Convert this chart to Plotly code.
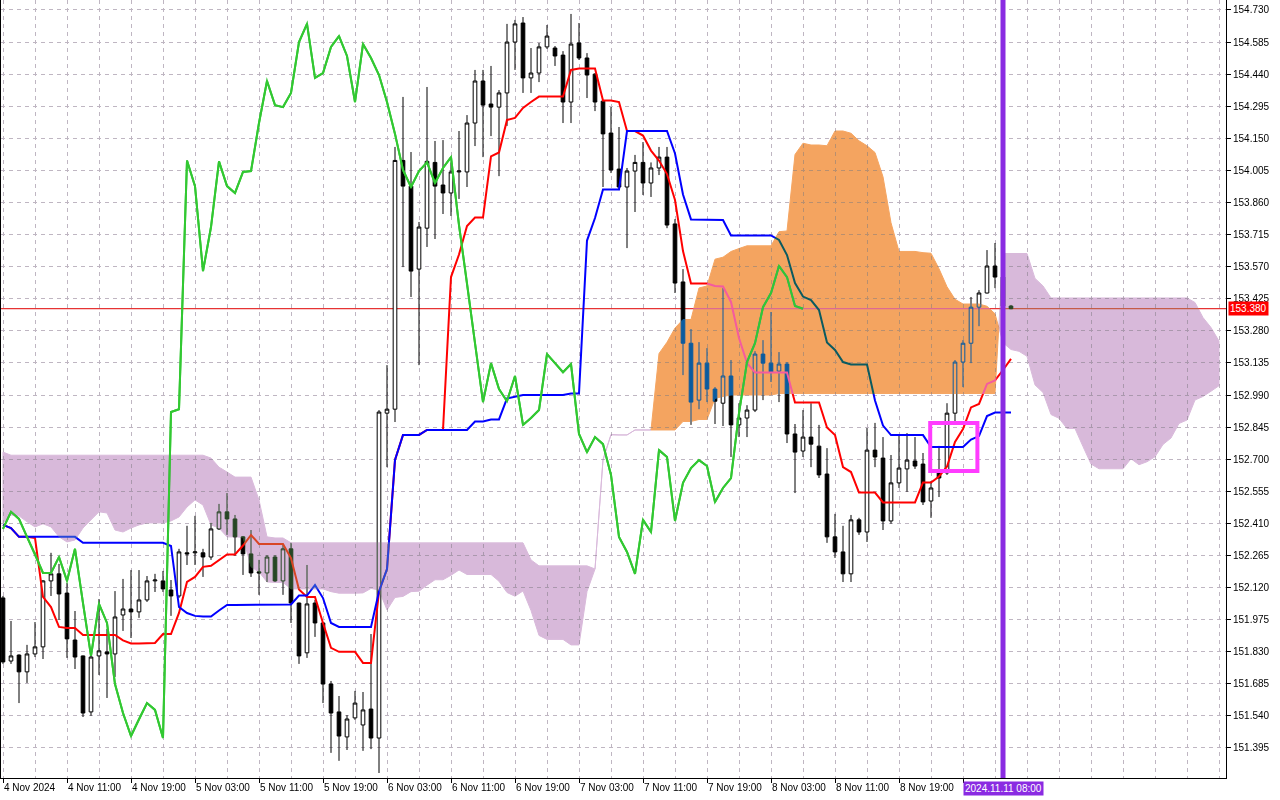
import numpy as np
import plotly.graph_objects as go

# ---------------- data ----------------
x_tick_labels = ["4 Nov 2024", "4 Nov 11:00", "4 Nov 19:00", "5 Nov 03:00", "5 Nov 11:00",
                 "5 Nov 19:00", "6 Nov 03:00", "6 Nov 11:00", "6 Nov 19:00", "7 Nov 03:00",
                 "7 Nov 11:00", "7 Nov 19:00", "8 Nov 03:00", "8 Nov 11:00", "8 Nov 19:00"]

open_ = [152.073, 151.788, 151.815, 151.739, 151.820, 151.852, 152.150, 152.182, 152.095, 151.883,
         151.811, 151.558, 151.811, 151.829, 151.820, 151.996, 152.023, 152.010, 152.064, 152.150,
         152.150, 152.109, 152.082, 152.277, 152.277, 152.277, 152.258, 152.385, 152.462, 152.430,
         152.349, 152.272, 152.191, 152.186, 152.258, 152.150, 152.295, 152.050, 151.825, 152.050,
         151.960, 151.684, 151.558, 151.445, 151.531, 151.499, 151.571, 151.440, 152.908, 152.926,
         154.050, 153.934, 153.559, 153.744, 154.041, 153.939, 153.903, 153.998, 153.998, 154.219,
         154.409, 154.305, 154.291, 154.355, 154.585, 154.671, 154.423, 154.445, 154.563, 154.558,
         154.526, 154.314, 154.581, 154.513, 154.440, 154.318, 154.174, 154.011, 153.930, 154.002,
         154.041, 153.948, 154.016, 154.065, 153.763, 153.501, 153.224, 152.967, 153.134, 153.017,
         152.953, 153.076, 152.855, 152.886, 152.922, 153.175, 153.134, 153.098, 153.130, 152.814,
         152.737, 152.800, 152.759, 152.633, 152.349, 152.281, 152.182, 152.426, 152.371, 152.741,
         152.705, 152.421, 152.593, 152.656, 152.692, 152.678, 152.511, 152.647, 152.638, 152.908,
         153.139, 153.224, 153.387, 153.451, 153.573, 153.523, 153.392]

high = [152.082, 151.969, 151.818, 151.861, 151.964, 152.154, 152.277, 152.227, 152.141, 152.014,
        151.813, 151.815, 152.068, 151.933, 152.104, 152.159, 152.199, 152.199, 152.172, 152.182,
        152.195, 152.154, 152.295, 152.399, 152.444, 152.295, 152.412, 152.498, 152.547, 152.448,
        152.353, 152.380, 152.245, 152.267, 152.267, 152.313, 152.322, 152.052, 152.222, 152.064,
        151.962, 151.698, 151.630, 151.544, 151.653, 151.648, 151.910, 152.922, 153.125, 154.111,
        154.337, 154.088, 153.772, 154.382, 154.138, 154.142, 154.041, 154.183, 154.255, 154.459,
        154.459, 154.477, 154.368, 154.667, 154.685, 154.698, 154.558, 154.581, 154.662, 154.567,
        154.544, 154.712, 154.671, 154.535, 154.445, 154.323, 154.291, 154.201, 154.016, 154.075,
        154.133, 154.041, 154.111, 154.111, 153.785, 153.559, 153.288, 153.229, 153.202, 153.026,
        153.473, 153.148, 152.953, 152.944, 153.188, 153.238, 153.365, 153.184, 153.139, 152.859,
        152.922, 152.953, 152.855, 152.750, 152.453, 152.399, 152.448, 152.435, 152.841, 152.864,
        152.800, 152.719, 152.814, 152.818, 152.800, 152.728, 152.601, 152.760, 152.953, 153.148,
        153.238, 153.433, 153.464, 153.645, 153.677, 153.555, 153.397]

low = [151.775, 151.775, 151.598, 151.689, 151.806, 151.797, 152.082, 151.974, 151.802, 151.752,
       151.535, 151.540, 151.725, 151.621, 151.716, 151.924, 151.892, 151.983, 152.055, 152.100,
       152.100, 151.992, 152.073, 152.222, 152.222, 152.168, 152.245, 152.380, 152.358, 152.263,
       152.177, 152.168, 152.087, 152.145, 152.145, 152.087, 151.960, 151.775, 151.802, 151.897,
       151.598, 151.373, 151.337, 151.386, 151.522, 151.382, 151.390, 151.282, 152.664, 152.868,
       153.568, 153.433, 153.125, 153.659, 153.695, 153.808, 153.799, 153.876, 153.930, 154.115,
       154.065, 154.160, 153.979, 154.206, 154.459, 154.355, 154.355, 154.404, 154.554, 154.477,
       154.219, 154.219, 154.504, 154.332, 154.273, 153.930, 153.993, 153.916, 153.654, 153.817,
       153.894, 153.885, 153.984, 153.744, 153.451, 153.080, 152.855, 152.926, 152.958, 152.859,
       152.850, 152.710, 152.800, 152.800, 152.913, 152.967, 153.049, 152.958, 152.773, 152.547,
       152.710, 152.664, 152.615, 152.322, 152.254, 152.145, 152.145, 152.358, 152.326, 152.664,
       152.380, 152.408, 152.570, 152.552, 152.656, 152.493, 152.435, 152.529, 152.629, 152.868,
       153.026, 153.134, 153.301, 153.449, 153.473, 153.380, 153.378]

close = [151.784, 151.811, 151.739, 151.820, 151.852, 152.150, 152.182, 152.091, 151.888, 151.806,
         151.553, 151.806, 151.834, 151.820, 151.987, 152.023, 152.010, 152.064, 152.150, 152.154,
         152.114, 152.082, 152.281, 152.272, 152.281, 152.258, 152.385, 152.462, 152.430, 152.349,
         152.272, 152.186, 152.186, 152.258, 152.150, 152.295, 152.050, 151.811, 152.046, 151.960,
         151.684, 151.553, 151.449, 151.526, 151.598, 151.567, 151.440, 152.913, 152.926, 154.050,
         153.934, 153.550, 153.749, 154.046, 153.934, 153.903, 153.998, 154.002, 154.219, 154.409,
         154.300, 154.291, 154.355, 154.585, 154.667, 154.423, 154.445, 154.563, 154.612, 154.522,
         154.314, 154.576, 154.513, 154.436, 154.314, 154.170, 154.007, 153.930, 154.002, 154.041,
         153.948, 154.016, 154.065, 153.758, 153.496, 153.224, 152.958, 153.134, 153.017, 152.962,
         153.076, 152.855, 152.886, 152.922, 153.175, 153.134, 153.093, 153.130, 152.814, 152.732,
         152.800, 152.768, 152.629, 152.349, 152.281, 152.182, 152.426, 152.371, 152.741, 152.710,
         152.421, 152.593, 152.660, 152.696, 152.669, 152.507, 152.570, 152.615, 152.908, 153.139,
         153.224, 153.387, 153.451, 153.573, 153.523, 153.392, 153.380]

# indicator values of the first bars (their history lies left of the visible window)
tenkan_head = [152.403, 152.389, 152.349, 152.349, 152.344, 152.078, 152.032, 151.942]
kijun_head = [152.403, 152.389] + [152.349] * 8 + [152.322] * 11 + [152.308, 152.032, 152.005, 151.992]
span_a_head = [152.412, 152.448, 152.444, 152.417, 152.394, 152.408, 152.394, 152.349, 152.326, 152.335,
               152.389, 152.426, 152.462, 152.457, 152.380, 152.371, 152.389, 152.403, 152.412, 152.412,
               152.412, 152.421, 152.439, 152.484, 152.516, 152.493]
span_b_head = ([152.732] + [152.718] * 25 + [152.705, 152.664, 152.642] + [152.619] * 3 +
               [152.516, 152.349, 152.344, 152.344] + [152.322] * 30 + [152.245] + [152.218] * 7 +
               [152.204, 152.699, 152.812])

y_tick_values = [151.395, 151.540, 151.685, 151.830, 151.975, 152.120, 152.265, 152.410, 152.555,
                 152.700, 152.845, 152.990, 153.135, 153.280, 153.425, 153.570, 153.715, 153.860,
                 154.005, 154.150, 154.295, 154.440, 154.585, 154.730]

last_price = 153.380
marker_bar = 125
marker_label = "2024.11.11 08:00"
box_bars = (115.9, 121.8)
box_prices = (152.647, 152.864)

TENKAN, KIJUN, SHIFT, SPANB = 9, 26, 26, 52

# ---------------- Ichimoku computation ----------------
n = len(close)
bars = np.arange(n)


def midpoint(period, i):
    lo = i - period + 1
    return (max(high[lo:i + 1]) + min(low[lo:i + 1])) / 2.0


tenkan = tenkan_head + [midpoint(TENKAN, i) for i in range(len(tenkan_head), n)]
kijun = kijun_head + [midpoint(KIJUN, i) for i in range(len(kijun_head), n)]
span_a = span_a_head + [(tenkan[i - SHIFT] + kijun[i - SHIFT]) / 2.0
                        for i in range(len(span_a_head), n + SHIFT)]
span_b = span_b_head + [midpoint(SPANB, i - SHIFT) for i in range(len(span_b_head), n + SHIFT)]
chikou_x = bars[:n - SHIFT]
chikou_y = close[SHIFT:]


def cloud_runs(a, b):
    xs = np.arange(len(a), dtype=float)
    eps = 1e-7

    def sgn(v):
        return 1 if v > eps else (-1 if v < -eps else 0)

    runs = []
    px, pa, pb = [xs[0]], [a[0]], [b[0]]
    sign = sgn(a[0] - b[0])
    for i in range(1, len(a)):
        d1 = a[i] - b[i]
        s = sgn(d1)
        if s != 0 and sign != 0 and s != sign:
            d0 = a[i - 1] - b[i - 1]
            t = d0 / (d0 - d1)
            t = min(max(t, 0.0), 1.0)
            xc = xs[i - 1] + t
            yc = a[i - 1] + t * (a[i] - a[i - 1])
            px.append(xc); pa.append(yc); pb.append(yc)
            runs.append((sign, px, pa, pb))
            px, pa, pb = [xc], [yc], [yc]
            sign = s
        elif sign == 0:
            sign = s
        px.append(xs[i]); pa.append(a[i]); pb.append(b[i])
    runs.append((sign, px, pa, pb))
    return runs


def xy_path(xs, ys, close_path=False):
    p = "M " + " L ".join(f"{x:.4f},{y:.5f}" for x, y in zip(xs, ys))
    return p + (" Z" if close_path else "")


# The terminal paints the cloud by inverting what lies below it.  The fill colours
# below are the inverted colours; the browser blends them ("exclusion") so that on
# white they appear as sandy brown / thistle and candles inside turn blue / green.
ORANGE_INV = "rgb(11, 91, 159)"    # white -> #F4A460
THISTLE_INV = "rgb(39, 70, 37)"    # white -> #D8B9DA

shapes = []
# current price line (below the cloud, like in the terminal)
shapes.append(dict(type="line", xref="paper", x0=0, x1=1, yref="y", y0=last_price, y1=last_price,
                   layer="below", line=dict(color="#E00000", width=1)))

cloud_start = len(shapes)
for sign, px, pa, pb in cloud_runs(span_a, span_b):
    col = ORANGE_INV if sign > 0 else THISTLE_INV
    path = xy_path(list(px) + list(px[::-1]), list(pa) + list(pb[::-1]), close_path=True)
    shapes.append(dict(type="path", path=path, xref="x", yref="y", layer="above",
                       fillcolor=col, line=dict(color=col, width=1)))
cloud_end = len(shapes)

# lagging line is painted after the cloud
shapes.append(dict(type="path", path=xy_path(chikou_x, chikou_y), xref="x", yref="y", layer="above",
                   line=dict(color="#32C832", width=2)))
# vertical marker line
shapes.append(dict(type="line", xref="x", x0=marker_bar, x1=marker_bar, yref="paper", y0=0, y1=1,
                   layer="above", line=dict(color="#8A2BE2", width=5)))
# magenta rectangle
shapes.append(dict(type="rect", xref="x", yref="y", x0=box_bars[0], x1=box_bars[1],
                   y0=box_prices[0], y1=box_prices[1], layer="above",
                   line=dict(color="#FF3CFF", width=4), fillcolor="rgba(0,0,0,0)"))

fig = go.Figure()
fig.add_trace(go.Candlestick(
    x=bars, open=open_, high=high, low=low, close=close,
    increasing=dict(line=dict(color="black", width=1), fillcolor="white"),
    decreasing=dict(line=dict(color="black", width=1), fillcolor="black"),
    whiskerwidth=0, showlegend=False, hoverinfo="skip"))
fig.add_trace(go.Scatter(x=bars, y=tenkan, mode="lines", line=dict(color="#FF0000", width=2),
                         showlegend=False, hoverinfo="skip"))
fig.add_trace(go.Scatter(x=bars, y=kijun, mode="lines", line=dict(color="#0000FF", width=2),
                         showlegend=False, hoverinfo="skip"))
fig.add_trace(go.Scatter(x=chikou_x, y=chikou_y, mode="lines", line=dict(color="#32C832", width=2),
                         showlegend=False, hoverinfo="skip"))

FONT = "Liberation Sans"
annotations = [
    dict(xref="paper", x=1.0, xanchor="left", xshift=2, yref="y", y=last_price, yanchor="middle",
         text=f"{last_price:.3f}", showarrow=False, bgcolor="#FF0000",
         font=dict(family=FONT, size=10, color="white"), borderpad=1),
    dict(xref="x", x=marker_bar, xanchor="center", yref="paper", y=0, yanchor="top", yshift=-3,
         text=marker_label, showarrow=False, bgcolor="#8A2BE2",
         font=dict(family=FONT, size=10, color="white"), borderpad=1),
]

label_bars = list(range(0, 8 * len(x_tick_labels), 8))
major = label_bars + [8 * len(x_tick_labels)]
major_text = x_tick_labels + [""]
grid_all = list(range(0, 153, 4))
minor_vals = [v for v in grid_all if v not in major]

GRID = "#BFB6C2"
fig.update_layout(
    width=1280, height=800,
    margin=dict(l=1, r=54, t=0, b=22, autoexpand=False),
    paper_bgcolor="white", plot_bgcolor="white",
    font=dict(family=FONT, size=10, color="black"),
    boxgap=0.35,
    shapes=shapes, annotations=annotations,
    hovermode=False,
    xaxis=dict(range=[-0.25, 152.875], rangeslider=dict(visible=False),
               tickmode="array", tickvals=major, ticktext=major_text,
               ticks="outside", ticklen=4, tickcolor="black",
               ticklabelposition="outside right",
               showgrid=True, gridcolor=GRID, griddash="4px,4px", gridwidth=1,
               minor=dict(tickmode="array", tickvals=minor_vals, showgrid=True, gridcolor=GRID,
                          griddash="4px,4px", gridwidth=1, ticks=""),
               showline=True, linecolor="black", linewidth=1, zeroline=False,
               tickfont=dict(family=FONT, size=10, color="black")),
    yaxis=dict(range=[151.2594, 154.775], side="right",
               tickmode="array", tickvals=y_tick_values,
               ticktext=[f"{v:.3f}" for v in y_tick_values],
               ticks="outside", ticklen=4, tickcolor="black",
               showgrid=True, gridcolor=GRID, griddash="4px,4px", gridwidth=1,
               showline=True, linecolor="black", linewidth=1, mirror=True, zeroline=False,
               tickfont=dict(family=FONT, size=10, color="black")),
)

post_script = """
document.body.style.margin = '0';
document.body.style.overflow = 'hidden';
function ichimokuBlend() {
  var cloudFills = ['rgb(11, 91, 159)', 'rgb(39, 70, 37)'];
  var paths = document.querySelectorAll('.shapelayer path');
  paths.forEach(function (p) {
    var f = window.getComputedStyle(p).fill;
    if (cloudFills.indexOf(f) >= 0) {
      p.style.mixBlendMode = 'exclusion';
      var g = p.parentNode;
      if (g && g.classList && !g.classList.contains('shapelayer') && g.tagName.toLowerCase() === 'g') {
        g.style.mixBlendMode = 'exclusion';
      }
    }
  });
}
ichimokuBlend();
var gdiv = document.getElementById('{plot_id}');
if (gdiv && gdiv.on) { gdiv.on('plotly_afterplot', ichimokuBlend); }
"""

fig.write_html("out.html", include_plotlyjs=True, config={"displayModeBar": False},
               post_script=post_script)
